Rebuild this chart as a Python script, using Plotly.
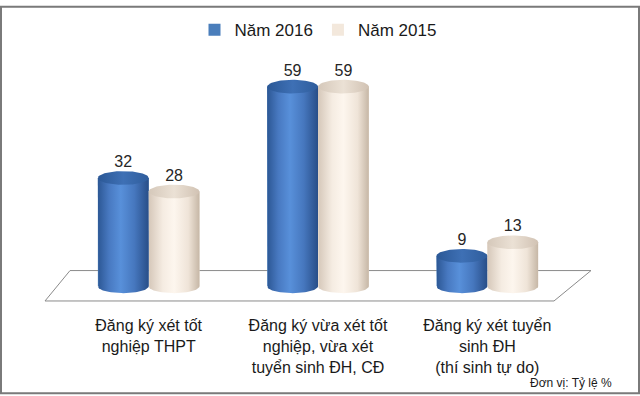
import numpy as np
import plotly.graph_objects as go

categories = [
    "Đăng ký xét tốt<br>nghiệp THPT",
    "Đăng ký vừa xét tốt<br>nghiệp, vừa xét<br>tuyển sinh ĐH, CĐ",
    "Đăng ký xét tuyển<br>sinh ĐH<br>(thí sinh tự do)",
]
series_names = ["Năm 2016", "Năm 2015"]
values_2016 = [32, 59, 9]
values_2015 = [28, 59, 13]
unit_note = "Đơn vị: Tỷ lệ %"

# styling
W = 0.30           # bar width in category units
B = 2.03           # ellipse half-height in value units
FONT = "Liberation Sans, Arial, sans-serif"
legend_colors = ["#4A7EBB", "#F3E8DC"]
body_scales = [
    [[0, "#2C5794"], [0.22, "#4879C1"], [0.45, "#5890DA"], [0.72, "#4677BE"], [1, "#284E88"]],
    [[0, "#D5C7B9"], [0.28, "#F5ECE2"], [0.5, "#FDF6EE"], [0.78, "#EFE4D8"], [1, "#C6B7A6"]],
]
cap_scales = [
    [[0, "#2B5896"], [0.5, "#3E70B5"], [1, "#2F5D9C"]],
    [[0, "#D5C8BA"], [0.5, "#EBE1D5"], [1, "#D1C2B3"]],
]

fig = go.Figure()
all_series = [values_2016, values_2015]
x_idx = np.arange(len(categories))

for s, vals in enumerate(all_series):
    fig.add_trace(go.Bar(
        x=x_idx, y=vals, name=series_names[s],
        marker=dict(color=legend_colors[s], line=dict(width=0)),
        width=W, hoverinfo="skip",
    ))

t_full = np.linspace(0, 2 * np.pi, 90)
t_bot = np.linspace(np.pi, 2 * np.pi, 45)
label_x, label_y, label_t = [], [], []
for s, vals in enumerate(all_series):
    off = (-W / 2) if s == 0 else (W / 2)
    for i, v in enumerate(vals):
        cx = x_idx[i] + off
        a = W / 2
        xl, xr = cx - a, cx + a
        bx = [xl, xl] + list(cx + a * np.cos(t_bot)) + [xr, xl]
        by = [v, 0] + list(B * np.sin(t_bot)) + [v, v]
        fig.add_trace(go.Scatter(
            x=bx, y=by, mode="lines", fill="toself", line=dict(width=0),
            fillgradient=dict(type="horizontal", colorscale=body_scales[s]),
            showlegend=False, hoverinfo="skip",
        ))
        fig.add_trace(go.Scatter(
            x=list(cx + a * np.cos(t_full)), y=list(v + B * np.sin(t_full)),
            mode="lines", fill="toself", line=dict(width=0),
            fillgradient=dict(type="horizontal", colorscale=cap_scales[s]),
            showlegend=False, hoverinfo="skip",
        ))
        label_x.append(cx)
        label_y.append(v + B)
        label_t.append(str(v))

fig.add_trace(go.Scatter(
    x=label_x, y=label_y, text=label_t, mode="text", textposition="top center",
    textfont=dict(family=FONT, size=16, color="#262626"),
    showlegend=False, hoverinfo="skip", cliponaxis=False,
))

# layout geometry (pixels)
L, R, T, Bm = 64, 68, 40, 96
PW, PH = 640 - L - R, 396 - T - Bm

def px(xp):
    return (xp - L) / PW

def py(yp):
    return (396 - Bm - yp) / PH

floor = (f"M {px(70)} {py(270)} L {px(591)} {py(270)} "
         f"L {px(554)} {py(301)} L {px(45)} {py(301)} Z")

fig.update_layout(
    width=640, height=396,
    margin=dict(l=L, r=R, t=T, b=Bm),
    paper_bgcolor="white", plot_bgcolor="rgba(0,0,0,0)",
    barmode="group", bargap=0.40,
    font=dict(family=FONT, size=16, color="#1a1a1a"),
    xaxis=dict(range=[-0.5, 2.5], tickvals=list(x_idx), ticktext=categories,
               showgrid=False, zeroline=False, showline=False, ticks="",
               ticklabelstandoff=14, tickfont=dict(size=16, color="#1a1a1a")),
    yaxis=dict(range=[-4.06, 71.3], visible=False),
    legend=dict(orientation="h", x=0.5, xanchor="center", y=py(25), yanchor="middle",
                font=dict(size=17, color="#1a1a1a"), bgcolor="rgba(0,0,0,0)",
                itemwidth=30, traceorder="normal"),
    shapes=[
        dict(type="path", path=floor, xref="paper", yref="paper",
             fillcolor="white", line=dict(color="#8a8a8a", width=1), layer="below"),
        dict(type="rect", xref="paper", yref="paper",
             x0=px(1), x1=px(639), y0=py(1), y1=py(395),
             line=dict(color="#7a7a7a", width=2), fillcolor="rgba(0,0,0,0)", layer="above"),
    ],
    annotations=[
        dict(text=unit_note, xref="paper", yref="paper", x=px(614), y=py(385),
             xanchor="right", yanchor="middle", showarrow=False,
             font=dict(size=12, color="#1a1a1a")),
    ],
)

fig.write_html("out.html", config={"displayModeBar": False},
               post_script="document.body.style.margin='0';")
